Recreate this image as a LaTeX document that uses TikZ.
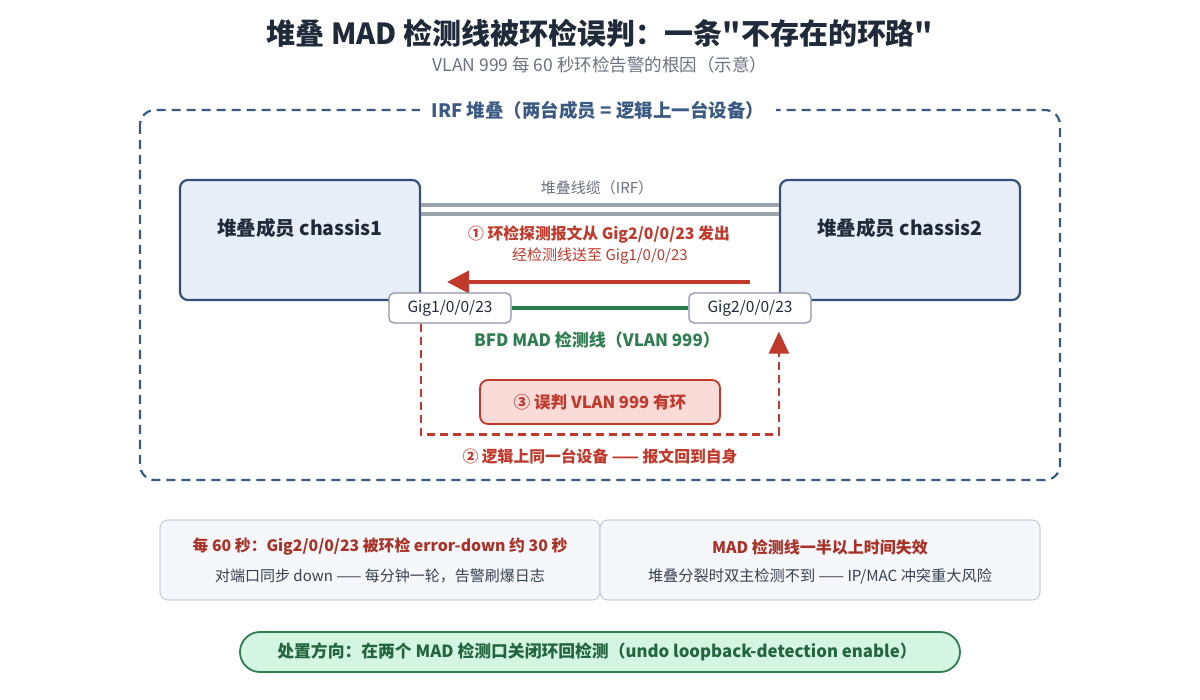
\documentclass[tikz,border=0pt]{standalone}
\usepackage{fontspec}
\setmainfont{Noto Sans CJK SC}
\newfontfamily\qf{Noto Sans CJK SC}
\usetikzlibrary{arrows.meta,calc}
\definecolor{titlec}{HTML}{1F2A3A}
\definecolor{subc}{HTML}{6B7280}
\definecolor{stackc}{HTML}{3A5A85}
\definecolor{boxfill}{HTML}{E8EEF8}
\definecolor{boxline}{HTML}{34507A}
\definecolor{cablec}{HTML}{9AA3AE}
\definecolor{redc}{HTML}{C0392B}
\definecolor{darkred}{HTML}{A93226}
\definecolor{pinkfill}{HTML}{FADBD8}
\definecolor{greenc}{HTML}{2E7D4F}
\definecolor{greentext}{HTML}{22663D}
\definecolor{greenfill}{HTML}{D5F5E3}
\definecolor{portline}{HTML}{8E90A6}
\definecolor{cardfill}{HTML}{F5F7FB}
\definecolor{cardline}{HTML}{CBD2DC}
\definecolor{graytext}{HTML}{374151}
\tikzset{
  chassis/.style={draw=boxline,fill=boxfill,line width=2.2pt,rounded corners=8pt,minimum width=240pt,minimum height=120pt,inner sep=0pt},
  port/.style={draw=portline,fill=white,line width=1.2pt,rounded corners=5pt,minimum width=122pt,minimum height=30pt,inner sep=0pt,font=\fontsize{15.5}{17}\selectfont,text=titlec},
  card/.style={draw=cardline,fill=cardfill,line width=1.2pt,rounded corners=8pt,minimum width=440pt,minimum height=80pt,inner sep=0pt},
  lbl/.style={inner sep=0pt},
}
\begin{document}
\begin{tikzpicture}[x=1pt,y=-1pt]
\useasboundingbox (0,0) rectangle (1200,700);
\fill[white] (0,0) rectangle (1200,700);
% title
\node[lbl,text=titlec,font=\fontsize{29}{32}\selectfont\bfseries] (title) at (600,33) {堆叠 MAD 检测线被环检误判：一条{\qf"}不存在的环路{\qf"}};
\node[lbl,text=subc,font=\fontsize{17.5}{20}\selectfont] (sub) at (600,65) {VLAN 999 每 60 秒环检告警的根因（示意）};
% stack frame
\draw[stackc,line width=2.2pt,dash pattern=on 9pt off 6pt,rounded corners=15pt] (140,110) rectangle (1060,480);
\node[fill=white,inner xsep=12pt,inner ysep=2pt,text=stackc,font=\fontsize{18.5}{20}\selectfont\bfseries] (irf) at (598,110) {IRF 堆叠（两台成员 = 逻辑上一台设备）};
% chassis
\node[chassis] (c1) at (300,240) {};
\node[chassis] (c2) at (900,240) {};
\node[lbl,text=titlec,font=\fontsize{19.5}{22}\selectfont\bfseries] (c1t) at (300,228) {堆叠成员 chassis1};
\node[lbl,text=titlec,font=\fontsize{19.5}{22}\selectfont\bfseries] (c2t) at (900,228) {堆叠成员 chassis2};
% IRF cables
\draw[cablec,line width=4pt] ($(c1.east)+(0,-35)$) -- ($(c2.west)+(0,-35)$);
\draw[cablec,line width=4pt] ($(c1.east)+(0,-26)$) -- ($(c2.west)+(0,-26)$);
\node[lbl,text=subc,font=\fontsize{15}{17}\selectfont] (cabt) at (597,188) {堆叠线缆（IRF）};
% step 1 text
\node[lbl,text=redc,font=\fontsize{15.8}{18}\selectfont\bfseries] (s1) at (599,235) {① 环检探测报文从 Gig2/0/0/23 发出};
\node[lbl,text=redc,font=\fontsize{15}{17}\selectfont] (s1b) at (600,256) {经检测线送至 Gig1/0/0/23};
\coordinate (as) at (750,282);
\coordinate (ae) at (447,282);
\draw[redc,line width=4pt,-{Triangle[length=22pt,width=22pt]}] (as) -- (ae);
% ports
\node[port] (p1) at (450,308) {Gig1/0/0/23};
\node[port] (p2) at (750,308) {Gig2/0/0/23};
\draw[greenc,line width=4.5pt] (p1.east) -- (p2.west);
\node[lbl,text=greenc,font=\fontsize{17}{19}\selectfont\bfseries] (bfd) at (597,340) {BFD MAD 检测线（VLAN 999）};
% dashed loop
\coordinate (d1) at (c1.east |- p1.south);
\coordinate (d2) at (c2.west |- p2.south);
\coordinate (lb) at ($(d1)+(0,111)$);
\coordinate (rb) at ($(d2)+(0,111)$);
\draw[redc,line width=2.5pt,dash pattern=on 8pt off 5pt,-{Triangle[length=22pt,width=20pt]},shorten >=8pt] (d1) -- (lb) -- (rb) -- (d2);
% misjudge box
\node[draw=redc,fill=pinkfill,line width=1.8pt,rounded corners=8pt,minimum width=240pt,minimum height=44pt,text=redc,font=\fontsize{16.6}{18}\selectfont\bfseries] (mis) at (600,402) {③ 误判 VLAN 999 有环};
\node[lbl,text=redc,font=\fontsize{15.8}{18}\selectfont\bfseries] (s2) at (600,456) {② 逻辑上同一台设备 —— 报文回到自身};
% cards
\node[card] (k1) at (380,560) {};
\node[card] (k2) at (820,560) {};
\node[lbl,text=darkred,font=\fontsize{15.8}{18}\selectfont\bfseries] (k1a) at (380,547) {每 60 秒：Gig2/0/0/23 被环检 error-down 约 30 秒};
\node[lbl,text=graytext,font=\fontsize{15}{17}\selectfont] (k1b) at (380,576) {对端口同步 down —— 每分钟一轮，告警刷爆日志};
\node[lbl,text=darkred,font=\fontsize{16}{18}\selectfont\bfseries] (k2a) at (820,547) {MAD 检测线一半以上时间失效};
\node[lbl,text=graytext,font=\fontsize{15.2}{17}\selectfont] (k2b) at (820,576) {堆叠分裂时双主检测不到 —— IP/MAC 冲突重大风险};
% action
\node[draw=greenc,fill=greenfill,line width=1.8pt,rounded corners=20pt,minimum width=720pt,minimum height=40pt] (act) at (600,652) {};
\node[lbl,text=greentext,font=\fontsize{16.8}{19}\selectfont\bfseries] (actt) at (597,652) {处置方向：在两个 MAD 检测口关闭环回检测（undo loopback-detection enable）};
\end{tikzpicture}
\end{document}
